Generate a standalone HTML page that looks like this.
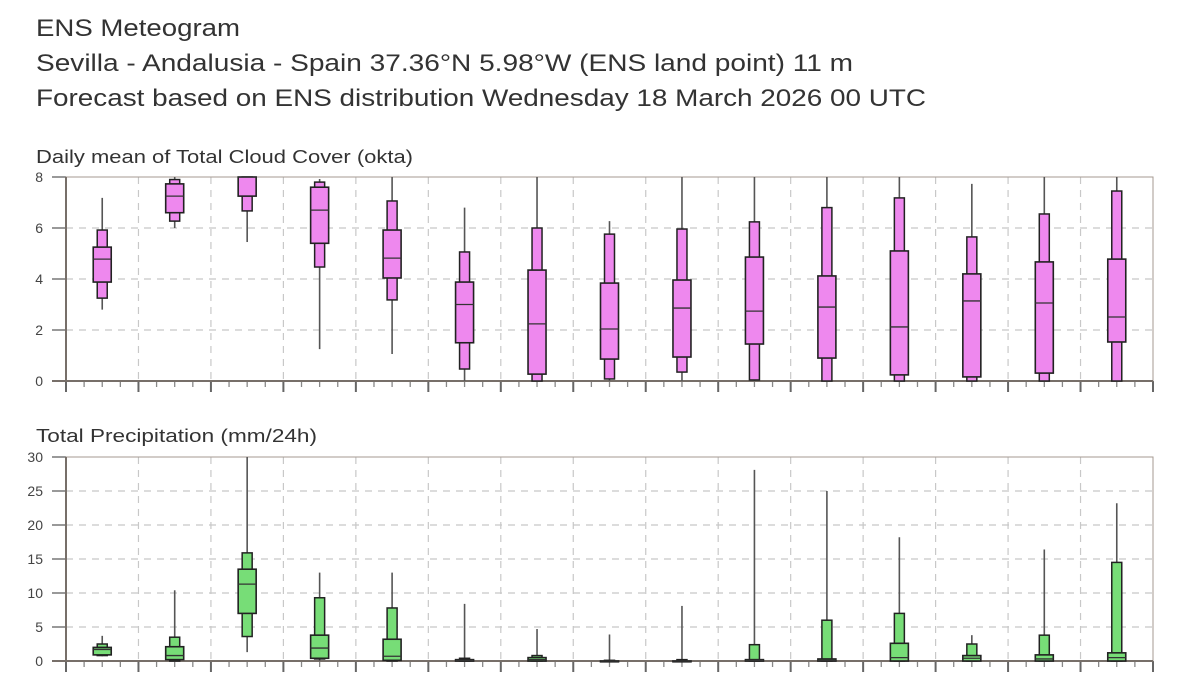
<!DOCTYPE html>
<html><head><meta charset="utf-8"><style>
body{margin:0;background:#fff;}
svg{display:block;font-family:"Liberation Sans",sans-serif;}
</style></head><body>
<svg id="chart" width="1200" height="689" viewBox="0 0 1200 689" xmlns="http://www.w3.org/2000/svg">
<text x="36" y="36" font-size="24" fill="#333" textLength="204" lengthAdjust="spacingAndGlyphs">ENS Meteogram</text>
<text x="36" y="71" font-size="24" fill="#333" textLength="817" lengthAdjust="spacingAndGlyphs">Sevilla - Andalusia - Spain 37.36°N 5.98°W (ENS land point) 11 m</text>
<text x="36" y="106" font-size="24" fill="#333" textLength="890" lengthAdjust="spacingAndGlyphs">Forecast based on ENS distribution Wednesday 18 March 2026 00 UTC</text>
<g id="p1"></g>
<g id="p2"></g>
</svg>
<script>
// Cloud cover (okta): min, p10, p25, median, p75, p90, max per day
const cloudMin = [2.8,6.0,5.45,1.25,1.06,0,0,0,0,0,0,0,0,0,0];
const cloudP10 = [3.25,6.27,6.67,4.47,3.18,0.47,0,0.08,0.35,0.04,0,0,0,0,0];
const cloudP25 = [3.88,6.6,7.25,5.4,4.04,1.5,0.27,0.86,0.94,1.45,0.9,0.24,0.16,0.31,1.53];
const cloudMed = [4.78,7.25,8,6.7,4.82,3.0,2.24,2.04,2.86,2.74,2.9,2.12,3.14,3.06,2.51];
const cloudP75 = [5.25,7.73,8,7.6,5.92,3.88,4.35,3.84,3.96,4.86,4.12,5.1,4.2,4.67,4.78];
const cloudP90 = [5.92,7.9,8,7.8,7.06,5.06,6.0,5.76,5.96,6.24,6.8,7.18,5.65,6.55,7.45];
const cloudMax = [7.18,8,8,7.92,8,6.8,8,6.27,8,8,8,8,7.73,8,8];
const cloudTicks = [0,2,4,6,8];
// Precipitation (mm/24h)
const precMin = [0.7,0,1.3,0,0,0,0,0,0,0,0,0,0,0,0];
const precP10 = [0.8,0,3.6,0.3,0,0,0,0,0,0,0,0,0,0,0];
const precP25 = [0.9,0.2,7.0,0.4,0.1,0,0,0,0,0,0,0,0,0,0];
const precMed = [1.7,0.8,11.3,1.9,0.7,0.1,0.2,0,0,0.1,0.1,0.5,0.4,0.3,0.5];
const precP75 = [2.0,2.1,13.5,3.8,3.2,0.2,0.5,0,0,0.2,0.3,2.6,0.8,0.9,1.2];
const precP90 = [2.5,3.5,15.9,9.3,7.8,0.4,0.8,0.1,0.2,2.4,6.0,7.0,2.5,3.8,14.5];
const precMax = [3.7,10.4,30,13,13,8.4,4.7,3.9,8.1,28.1,25,18.2,3.8,16.4,23.2];
const precTicks = [0,5,10,15,20,25,30];

const NS='http://www.w3.org/2000/svg';
const X0=66, X1=1153, NDAYS=15, DW=(X1-X0)/NDAYS;
function mk(parent,tag,attrs){const e=document.createElementNS(NS,tag);for(const k in attrs)e.setAttribute(k,attrs[k]);parent.appendChild(e);return e;}

function panel(g, title, titleW, titleY, top, bot, ymax, ticks, series, fill){
  const y = v => bot - (v/ymax)*(bot-top);
  const xc = i => X0 + DW*(i+0.5);
  let t=mk(g,'text',{x:36,y:titleY,'font-size':18,fill:'#333',textLength:titleW,lengthAdjust:'spacingAndGlyphs'});t.textContent=title;
  
  
  ticks.forEach(v=>{
    if(v>0 && v<ymax){
      const l=mk(g,'line',{x1:X0,x2:X1,y1:y(v),y2:y(v),stroke:'#c8c8c8','stroke-width':1.2,'stroke-dasharray':'7,6'});
      
      
    }
    const tk=mk(g,'line',{x1:52,x2:X0,y1:y(v),y2:y(v),stroke:'#777','stroke-width':1.5});
    
    
    const lb=mk(g,'text',{x:43,y:y(v)+5,'font-size':14,fill:'#444','text-anchor':'end'});lb.textContent=v;
    
    
  });
  for(let d=0; d<=NDAYS; d++){
    const x=X0+DW*d;
    if(d>0 && d<NDAYS){
      const l=mk(g,'line',{x1:x,x2:x,y1:top,y2:bot,stroke:'#c8c8c8','stroke-width':1.2,'stroke-dasharray':'7,6'});
      
      
    }
    const tk=mk(g,'line',{x1:x,x2:x,y1:bot,y2:bot+11,stroke:'#666','stroke-width':2});
    
    
    if(d<NDAYS){for(let q=1;q<4;q++){
      const m=mk(g,'line',{x1:x+DW*q/4,x2:x+DW*q/4,y1:bot,y2:bot+6,stroke:'#888','stroke-width':1.3});
      
      
    }}
  }
  const fr=mk(g,'rect',{x:X0,y:top,width:X1-X0,height:bot-top,fill:'none',stroke:'#a59a92','stroke-width':1});
  
  
  mk(g,'line',{x1:X0,x2:X0,y1:top,y2:bot,stroke:'#776f69','stroke-width':2});
  mk(g,'line',{x1:X0-14,x2:X1,y1:bot,y2:bot,stroke:'#776f69','stroke-width':2});
  const [mn,p10,p25,md,p75,p90,mx]=series;
  for(let i=0;i<NDAYS;i++){
    const c=xc(i);
    const bg=mk(g,'g',{});
    
    
    mk(bg,'line',{x1:c,x2:c,y1:y(mx[i]),y2:y(mn[i]),stroke:'#555','stroke-width':1.6});
    mk(bg,'rect',{x:c-5,y:y(p90[i]),width:10,height:Math.max(y(p10[i])-y(p90[i]),0.8),fill:fill,stroke:'#222','stroke-width':1.5});
    mk(bg,'rect',{x:c-9,y:y(p75[i]),width:18,height:Math.max(y(p25[i])-y(p75[i]),0.8),fill:fill,stroke:'#222','stroke-width':1.6});
    mk(bg,'line',{x1:c-9,x2:c+9,y1:y(md[i]),y2:y(md[i]),stroke:'#333','stroke-width':1.3});
  }
}
panel(document.getElementById('p1'),'Daily mean of Total Cloud Cover (okta)',377,163,177,381,8,cloudTicks,
  [cloudMin,cloudP10,cloudP25,cloudMed,cloudP75,cloudP90,cloudMax],'#ee88ee');
panel(document.getElementById('p2'),'Total Precipitation (mm/24h)',281,442,457,661,30,precTicks,
  [precMin,precP10,precP25,precMed,precP75,precP90,precMax],'#77dd77');
</script>
</body></html>
